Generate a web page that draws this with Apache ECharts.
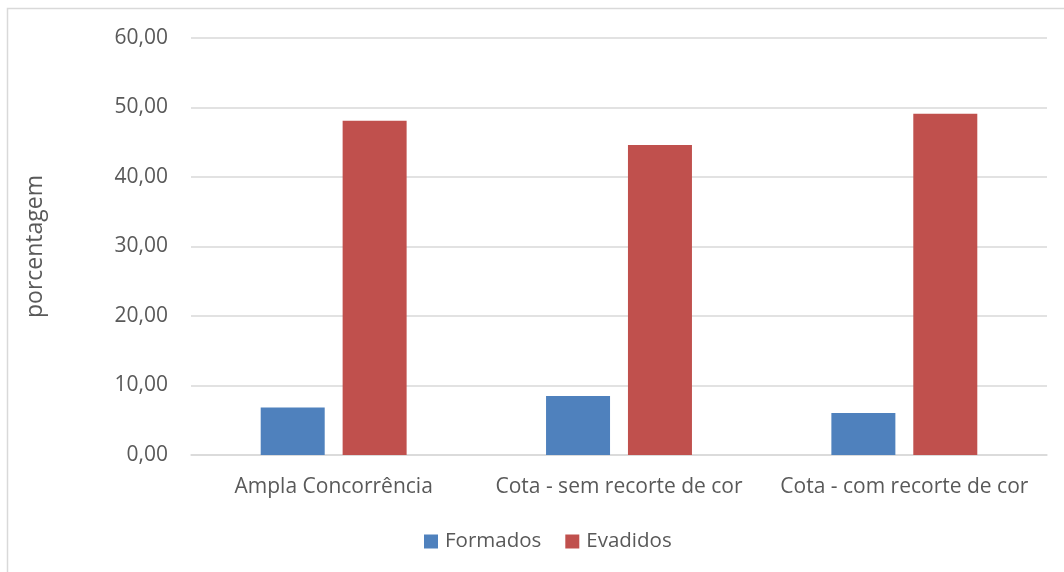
<!DOCTYPE html>
<html>
<head>
<meta charset="utf-8">
<script src="https://cdn.jsdelivr.net/npm/echarts@6/dist/echarts.min.js"></script>
<style>
  html, body { margin: 0; padding: 0; background: #fff; }
  #chart { width: 1064px; height: 572px; }
</style>
</head>
<body>
<div id="chart"></div>
<script>
// dados
var categorias = ['Ampla Concorrência', 'Cota - sem recorte de cor', 'Cota - com recorte de cor']
var formados = [6.85, 8.5, 6.05]
var evadidos = [48.1, 44.6, 49.1]

var fonte = '"Open Sans", "Noto Sans", sans-serif'
var cinza = '#595959'

var chart = echarts.init(document.getElementById('chart'))
chart.setOption({
  animation: false,
  textStyle: { fontFamily: fonte },
  graphic: [
    {
      type: 'rect',
      shape: { x: 7.5, y: 8.5, width: 1070, height: 580 },
      style: { fill: 'none', stroke: '#d9d9d9', lineWidth: 1.5 },
      silent: true
    }
  ],
  legend: {
    bottom: 15,
    left: 419,
    itemWidth: 14,
    itemHeight: 14,
    itemGap: 24,
    icon: 'rect',
    textStyle: { color: cinza, fontSize: 20.5, fontFamily: fonte, padding: [0, 0, 0, 2] },
    data: ['Formados', 'Evadidos']
  },
  grid: {
    left: 191,
    right: 17,
    top: 38,
    bottom: 117
  },
  xAxis: {
    type: 'category',
    data: categorias,
    axisTick: { show: false },
    axisLine: { lineStyle: { color: '#d9d9d9', width: 1.5 } },
    axisLabel: { color: cinza, fontSize: 21, margin: 22, interval: 0, fontFamily: fonte }
  },
  yAxis: {
    type: 'value',
    min: 0,
    max: 60,
    interval: 10,
    name: 'porcentagem',
    nameLocation: 'middle',
    nameGap: 144,
    nameTextStyle: { color: cinza, fontSize: 23, fontFamily: fonte },
    axisLine: { show: false },
    axisTick: { show: false },
    axisLabel: {
      color: cinza,
      fontSize: 21,
      margin: 23,
      fontFamily: fonte,
      formatter: function (v) { return v.toFixed(2).replace('.', ',') }
    },
    splitLine: { lineStyle: { color: '#d9d9d9', width: 1.5 } }
  },
  series: [
    {
      name: 'Formados',
      type: 'bar',
      barWidth: 64,
      barGap: '28%',
      itemStyle: { color: '#4f81bd' },
      data: formados
    },
    {
      name: 'Evadidos',
      type: 'bar',
      barWidth: 64,
      itemStyle: { color: '#c0504d' },
      data: evadidos
    }
  ]
})
</script>
</body>
</html>
